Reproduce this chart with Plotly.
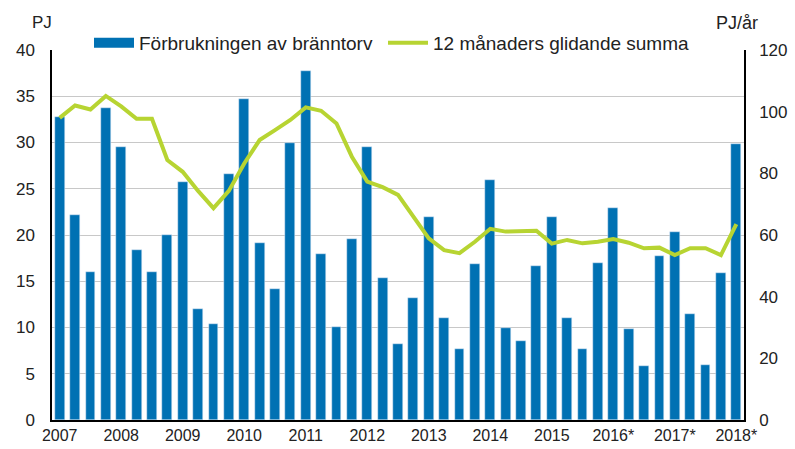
import plotly.graph_objects as go

quarters = [f"{y}Q{q}" for y in range(2007, 2019) for q in range(1, 5)][:45]
year_labels = ["2007", "2008", "2009", "2010", "2011", "2012", "2013", "2014",
               "2015", "2016*", "2017*", "2018*"]
consumption = [32.8, 22.2, 16.0, 33.7, 29.5, 18.4, 16.0, 20.0, 25.7, 12.0,
               10.4, 26.6, 34.7, 19.1, 14.2, 29.9, 37.7, 17.9, 10.1, 19.6,
               29.5, 15.3, 8.2, 13.2, 22.0, 11.0, 7.7, 16.9, 26.0, 9.9,
               8.5, 16.7, 22.0, 11.0, 7.7, 17.0, 22.9, 9.8, 5.8, 17.7,
               20.3, 11.5, 5.9, 15.9, 29.8]
moving_sum = [98.0, 102.0, 100.7, 105.1, 101.7, 97.7, 97.7, 84.3, 80.5, 74.3,
              68.7, 74.3, 83.2, 90.8, 94.0, 97.3, 101.4, 100.3, 96.2, 85.4,
              77.3, 75.5, 73.0, 65.9, 58.9, 55.1, 54.1, 57.8, 62.0, 61.1,
              61.4, 61.4, 57.2, 58.4, 57.3, 57.8, 58.7, 57.5, 55.7, 55.9,
              53.5, 55.7, 55.7, 53.5, 63.5]
label_quarters = quarters[::4]
sep_ticks = [-0.5, 11.5, 23.5, 35.5]

BLUE = "#0071b3"
GREEN = "#b7d432"
FONT = "Liberation Sans, Arial, sans-serif"

fig = go.Figure()
fig.add_trace(go.Bar(x=quarters, y=consumption, marker_color=BLUE, width=0.64,
                     showlegend=False, name="Förbrukningen av bränntorv"))
fig.add_trace(go.Scatter(x=[None], y=[None], mode="lines",
                         line=dict(color=BLUE, width=11), legend="legend",
                         name="Förbrukningen av bränntorv"))
fig.add_trace(go.Scatter(x=quarters, y=moving_sum, yaxis="y2", mode="lines",
                         line=dict(color=GREEN, width=4), legend="legend2",
                         name="12 månaders glidande summa"))

PL, PR, PT, PB = 52, 51, 50, 29
pw, ph = 795 - PL - PR, 449 - PT - PB


def px_x(x):
    return (x - PL) / pw


def px_y(y):
    return (449 - PB - y) / ph


legend_common = dict(orientation="h", xanchor="left", y=px_y(43),
                     yanchor="middle", bgcolor="white",
                     font=dict(size=19, family=FONT), itemwidth=40)

fig.update_layout(
    width=795, height=449,
    margin=dict(l=PL, r=PR, t=PT, b=PB, autoexpand=False),
    plot_bgcolor="white", paper_bgcolor="white",
    font=dict(family=FONT, size=16, color="#222222"),
    bargap=0,
    xaxis=dict(type="category", range=[-0.5, 44.5],
               tickmode="array", tickvals=label_quarters, ticktext=year_labels,
               ticks="", showline=True, linecolor="black", linewidth=1.5,
               showgrid=False, tickfont=dict(size=16), automargin=False),
    xaxis2=dict(overlaying="x", anchor="y", side="bottom", range=[-0.5, 44.5],
                tickmode="array", tickvals=sep_ticks, ticks="outside",
                ticklen=6, tickcolor="black", tickwidth=1.5,
                showticklabels=False, showgrid=False, showline=False,
                zeroline=False),
    yaxis=dict(range=[0, 40], tickvals=list(range(0, 41, 5)),
               showgrid=True, gridcolor="#c8c8c8", gridwidth=1,
               zeroline=False, showline=True, linecolor="black", linewidth=1.5,
               ticks="", ticklabelstandoff=12, tickfont=dict(size=17),
               automargin=False),
    yaxis2=dict(range=[0, 120], tickvals=list(range(0, 121, 20)),
                overlaying="y", side="right", showgrid=False, zeroline=False,
                showline=True, linecolor="black", linewidth=1.5, ticks="",
                ticklabelstandoff=10, tickfont=dict(size=17), automargin=False),
    legend=dict(x=px_x(89), **legend_common),
    legend2=dict(x=px_x(383), **legend_common),
    annotations=[
        dict(text="PJ", x=px_x(42), y=px_y(22), xref="paper", yref="paper",
             xanchor="center", yanchor="middle",
             showarrow=False, font=dict(size=17)),
        dict(text="PJ/år", x=px_x(737), y=px_y(23), xref="paper",
             yref="paper", xanchor="center", yanchor="middle",
             showarrow=False, font=dict(size=18)),
    ],
)

fig.write_html("out.html", config={"displayModeBar": False},
               post_script="document.body.style.margin='0';"
                           "document.body.style.overflow='hidden';")
